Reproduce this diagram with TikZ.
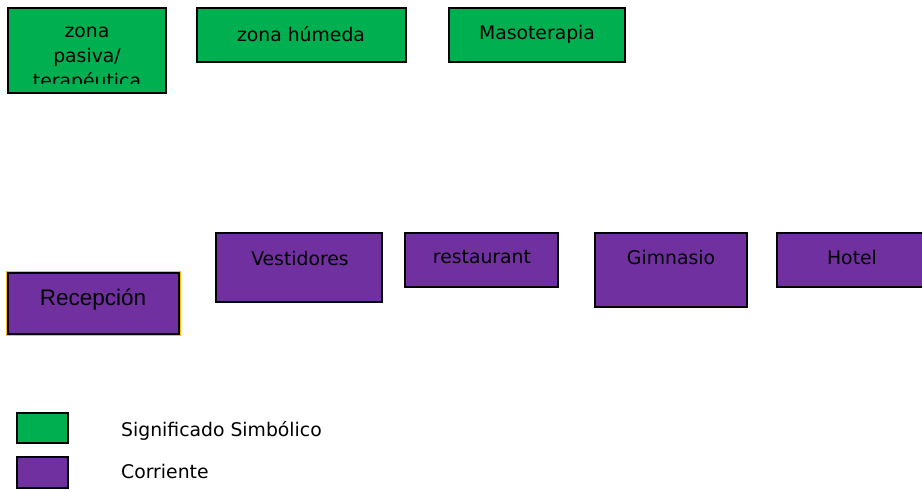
\documentclass[tikz,border=0pt]{standalone}
\usepackage{fontspec}
\setmainfont{DejaVu Sans}
\newfontfamily\arialfont{Liberation Sans}
\definecolor{boxgreen}{HTML}{00B050}
\definecolor{boxpurple}{HTML}{7030A0}
\definecolor{recorange}{HTML}{FFC000}
\begin{document}
\begin{tikzpicture}[x=1pt,y=-1pt,
  gbox/.style={draw=black,line width=1.8pt,fill=boxgreen},
  pbox/.style={draw=black,line width=1.8pt,fill=boxpurple},
  lbl/.style={inner sep=0pt,font=\fontsize{18.8}{25}\selectfont,text=black,align=center},
  leg/.style={inner sep=0pt,font=\fontsize{18.8}{25}\selectfont,text=black,anchor=west}]
\useasboundingbox[fill=white] (0,0) rectangle (922,491);
% green boxes
\draw[gbox] (8,8) rectangle (166,93);
\begin{scope}
\clip (9,9) rectangle (165,83);
\node[lbl] (pasiva) at (87,59) {zona\\pasiva/\\terapéutica};
\end{scope}
\draw[gbox] (197,8) rectangle (406,62);
\node[lbl] (humeda) at (301,34) {zona húmeda};
\draw[gbox] (449,8) rectangle (625,62);
\node[lbl] (maso) at (537,34) {Masoterapia};
% purple boxes
\draw[recorange,line width=1pt] (6.5,271.5) rectangle (180.5,335.5);
\draw[pbox] (8,273) rectangle (179,334);
\node[inner sep=0pt,font=\arialfont\fontsize{22.5}{26}\selectfont] (recep) at (93,300) {Recepción};
\draw[pbox] (216,233) rectangle (382,302);
\node[lbl] (vest) at (300,258) {Vestidores};
\draw[pbox] (405,233) rectangle (558,287);
\node[lbl] (rest) at (482,257) {restaurant};
\draw[pbox] (595,233) rectangle (747,307);
\node[lbl] (gimn) at (671,257) {Gimnasio};
\draw[pbox] (777,233) rectangle (925,287);
\node[lbl] (hotel) at (852,257) {Hotel};
% legend
\draw[gbox] (17,413) rectangle (68,443);
\node[leg] (sig) at (121,431) {Significado Simbólico};
\draw[pbox] (17,457) rectangle (68,488);
\node[leg] (cor) at (121,471) {Corriente};
\end{tikzpicture}
\end{document}
